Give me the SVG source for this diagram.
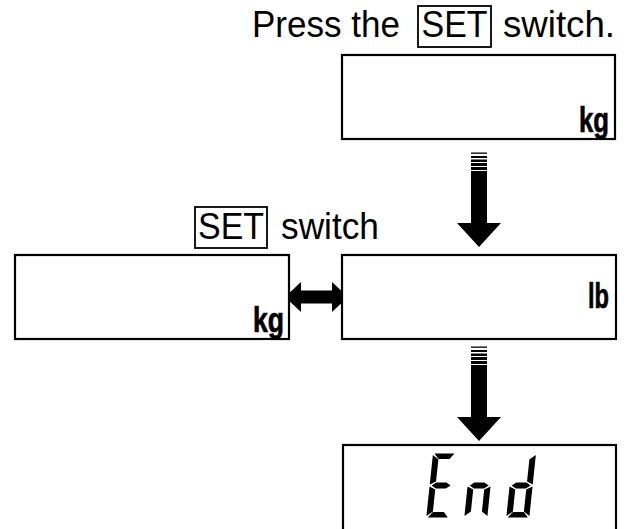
<svg xmlns="http://www.w3.org/2000/svg" width="627" height="529" viewBox="0 0 627 529">
  <style>
    .box { fill: #fff; stroke: #000; stroke-width: 2.2; }
    .keybox { fill: none; stroke: #000; stroke-width: 1.8; }
    .label { font-family: "Liberation Sans", Arial, sans-serif; font-size: 37px; fill: #000; }
    .unit { font-family: "Liberation Sans", Arial, sans-serif; font-weight: bold; font-size: 35px; fill: #000; stroke: #000; stroke-width: 0.7; }
    .arrow { fill: #000; }
    .seg { fill: #000; }
  </style>
  <defs>
    <g id="stripedArrow">
      <rect x="471" y="152.5" width="16" height="1.3"/>
      <rect x="471" y="156" width="16" height="2"/>
      <rect x="471" y="159.5" width="16" height="2.5"/>
      <rect x="471" y="163" width="16" height="3"/>
      <rect x="471" y="167" width="16" height="3"/>
      <rect x="471" y="171" width="16" height="53"/>
      <polygon points="457,223 501,223 479,247"/>
    </g>
    <polygon id="segA" points="1.5,0 21.5,0 17,5.5 6,5.5"/>
    <polygon id="segB" points="23,1.5 23,31 17,28 17,6"/>
    <polygon id="segC" points="23,33 23,62.5 17,58 17,36"/>
    <polygon id="segD" points="1.5,64 21.5,64 17,58.5 6,58.5"/>
    <polygon id="segE" points="0,33 6,36 6,58 0,62.5"/>
    <polygon id="segF" points="0,1.5 6,6 6,28 0,31"/>
    <polygon id="segG" points="2,32 6.5,29 16.5,29 21,32 16.5,35 6.5,35"/>
  </defs>

  <!-- instruction -->
  <g id="instruction">
    <text class="label" x="252" y="37" textLength="148" lengthAdjust="spacingAndGlyphs">Press the</text>
    <rect class="keybox" x="418" y="6" width="73" height="41"/>
    <text class="label" x="421.5" y="37" textLength="66" lengthAdjust="spacingAndGlyphs">SET</text>
    <text class="label" x="503" y="37" textLength="112" lengthAdjust="spacingAndGlyphs">switch.</text>
  </g>

  <!-- connectors -->
  <g id="connectors" class="arrow">
    <use href="#stripedArrow"/>
    <use href="#stripedArrow" transform="translate(0,194)"/>
    <polygon id="double-arrow" points="285,297 301,282 301,290.5 332,290.5 332,282 348,297 332,312 332,303.5 301,303.5 301,312"/>
  </g>

  <g id="switch-label">
    <rect class="keybox" x="195" y="207" width="72" height="41"/>
    <text class="label" x="198" y="239" textLength="66" lengthAdjust="spacingAndGlyphs">SET</text>
    <text class="label" x="281" y="239" textLength="98" lengthAdjust="spacingAndGlyphs">switch</text>
  </g>

  <g id="display-kg-top">
    <rect class="box" x="342" y="55" width="273" height="84"/>
    <text class="unit" x="579" y="132" textLength="30" lengthAdjust="spacingAndGlyphs">kg</text>
  </g>

  <g id="display-kg-left">
    <rect class="box" x="15" y="255" width="274" height="84"/>
    <text class="unit" x="253" y="332" textLength="31" lengthAdjust="spacingAndGlyphs">kg</text>
  </g>

  <g id="display-lb">
    <rect class="box" x="342" y="255" width="274" height="84"/>
    <text class="unit" x="588" y="308" textLength="21" lengthAdjust="spacingAndGlyphs">lb</text>
  </g>

  <g id="display-end">
    <rect class="box" x="343" y="445" width="273" height="100"/>
    <g class="seg" transform="translate(433,453.5) skewX(-6)">
      <use href="#segA"/><use href="#segD"/><use href="#segE"/><use href="#segF"/><use href="#segG"/>
    </g>
    <g class="seg" transform="translate(471,453.5) skewX(-6)">
      <use href="#segC"/><use href="#segE"/><use href="#segG"/>
    </g>
    <g class="seg" transform="translate(513,453.5) skewX(-6)">
      <use href="#segB"/><use href="#segC"/><use href="#segD"/><use href="#segE"/><use href="#segG"/>
    </g>
  </g>
</svg>
